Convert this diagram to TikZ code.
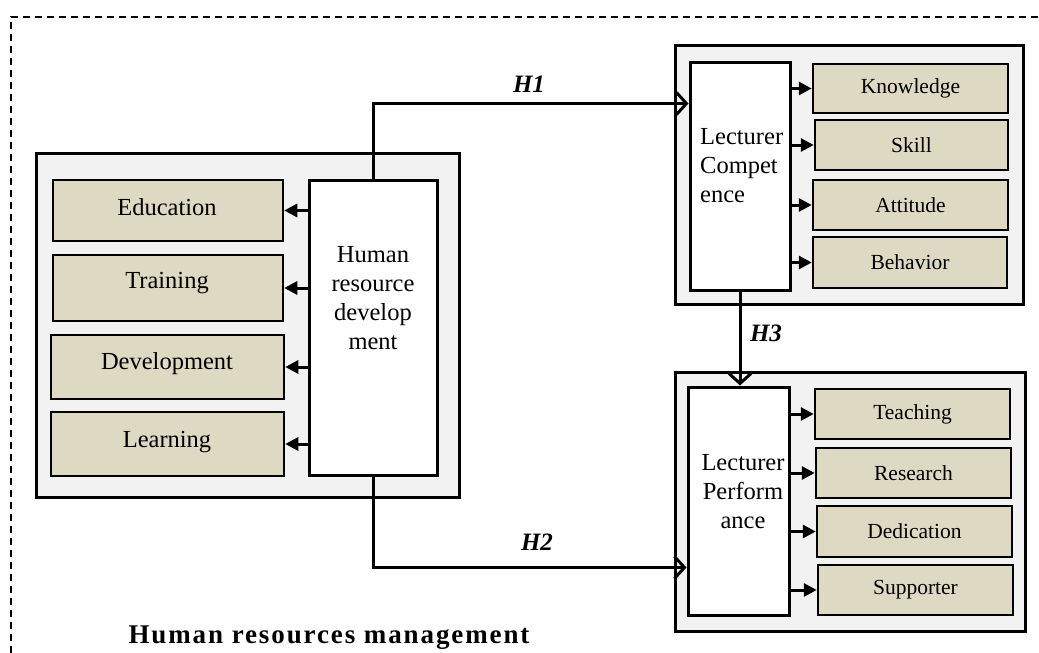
\documentclass[tikz,border=0pt]{standalone}
\usepackage{fontspec}
\setmainfont{Liberation Serif}
\usetikzlibrary{arrows.meta,calc}
\definecolor{panelgray}{HTML}{F2F2F2}
\definecolor{itemtan}{HTML}{DDD9C3}

% box from corner (x1,y1) to corner (x2,y2): style, name, x1, y1, x2, y2, text
\newcommand\mkbox[7]{%
  \node[#1, minimum width={#5-#3}, minimum height={#6-#4}] (#2)
    at ({(#3+#5)/2},{(#4+#6)/2}) {#7};}

\begin{document}
\begin{tikzpicture}[x=1pt,y=-1pt,
  panel/.style={draw, line width=3pt, fill=panelgray, inner sep=0pt},
  core/.style={draw, line width=3pt, fill=white, inner sep=0pt},
  item/.style={draw, line width=2.5pt, fill=itemtan, inner sep=0pt,
               font=\fontsize{21.5}{25}\selectfont},
  bigtxt/.style={font=\fontsize{24.5}{29}\selectfont, inner sep=0pt},
  hyp/.style={font=\fontsize{25}{30}\selectfont\bfseries\itshape, inner sep=0pt},
  link/.style={line width=3pt, -{Straight Barb[length=10pt,width=22pt]}},
  sub/.style={line width=3pt, -{Triangle[length=13pt,width=13pt]}}]

\useasboundingbox (0,0) rectangle (1039,653);

% dashed frame of the management area
\draw[line width=1.3pt, dash pattern=on 7pt off 5pt] (11,653) -- (11,17) -- (1039,17);

% panels
\mkbox{panel}{hrmpanel}{36}{153}{459}{497}{}
\mkbox{panel}{lcpanel}{675}{45}{1023}{304}{}
\mkbox{panel}{lppanel}{675}{372}{1025}{631}{}

% human resource development and its dimensions
\mkbox{core}{hrd}{309}{180}{437}{475}{}
\node[bigtxt, align=center, anchor=north] (hrdtxt) at (373,246)
  {Human\\resource\\develop\\ment};
\mkbox{item}{edu}{53}{180}{283}{241}{}
\mkbox{item}{tra}{53}{255}{283}{321}{}
\mkbox{item}{dev}{51}{335}{284}{399}{}
\mkbox{item}{lea}{51}{412}{284}{476}{}
\node[bigtxt, anchor=base] (edutxt) at (167,215) {Education};
\node[bigtxt, anchor=base] (tratxt) at (167,288) {Training};
\node[bigtxt, anchor=base] (devtxt) at (167,369) {Development};
\node[bigtxt, anchor=base] (leatxt) at (167,447) {Learning};

% lecturer competence and its dimensions
\mkbox{core}{lc}{690}{62}{790}{290}{}
\node[bigtxt, align=left, anchor=north west] (lctxt) at (700,128)
  {Lecturer\\Compet\\ence};
\mkbox{item}{kno}{813}{64}{1008}{113}{Knowledge}
\mkbox{item}{ski}{815}{120}{1008}{170}{Skill}
\mkbox{item}{att}{813}{180}{1008}{230}{Attitude}
\mkbox{item}{beh}{813}{237}{1007}{288}{Behavior}

% lecturer performance and its dimensions
\mkbox{core}{lp}{688}{387}{789}{615}{}
\node[bigtxt, align=center, anchor=north] (lptxt) at (743,454)
  {Lecturer\\Perform\\ance};
\mkbox{item}{tea}{815}{389}{1010}{439}{Teaching}
\mkbox{item}{res}{816}{448}{1011}{498}{Research}
\mkbox{item}{ded}{817}{506}{1012}{557}{Dedication}
\mkbox{item}{sup}{818}{565}{1013}{615}{Supporter}

% dimension arrows
\foreach \t in {edu,tra,dev,lea}
  \draw[sub] (hrd.west |- \t.east) -- (\t.east);
\foreach \t in {kno,ski,att,beh}
  \draw[sub] (lc.east |- \t.west) -- (\t.west);
\foreach \t in {tea,res,ded,sup}
  \draw[sub] (lp.east |- \t.west) -- (\t.west);

% hypotheses
\draw[link] (hrd.north) |- ([yshift=-43pt]lc.north west);
\draw[link] (hrd.south) |- ([yshift=49pt]lp.south west);
\draw[link] (lc.south) -- (lc.south |- lp.north);
\node[hyp, anchor=base] (h1) at (529,92) {H1};
\node[hyp, anchor=base] (h2) at (537,550) {H2};
\node[hyp, anchor=base] (h3) at (766,341) {H3};

% area title
\node[font=\fontsize{27}{32}\selectfont\bfseries\addfontfeature{LetterSpace=7},
      anchor=base, inner sep=0pt]
  (title) at (329,643) {Human resources management};
\end{tikzpicture}
\end{document}
